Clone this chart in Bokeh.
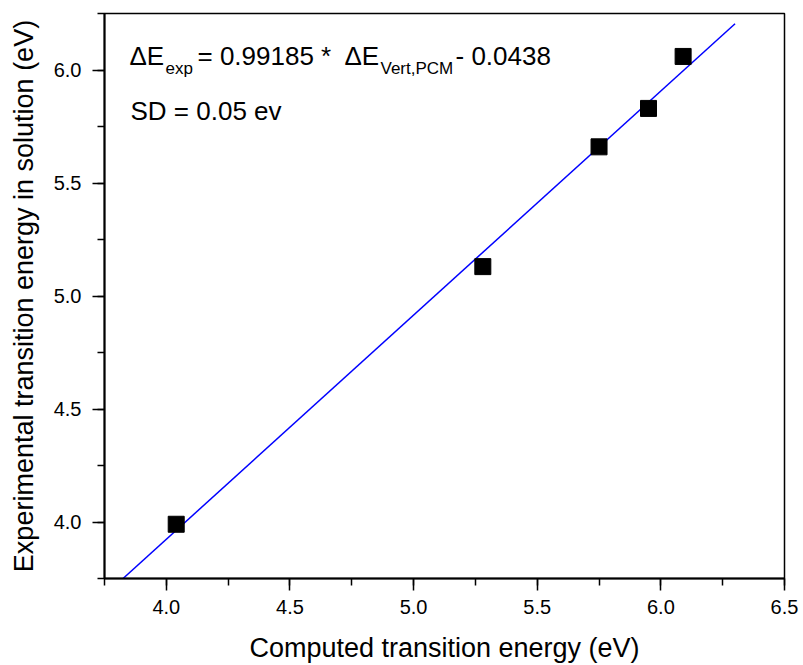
from bokeh.plotting import figure
from bokeh.models import Label, Range1d, FixedTicker, PrintfTickFormatter
from bokeh.embed import file_html
from bokeh.resources import INLINE

# Computed vs. experimental transition energies (eV)
computed = [4.04, 5.28, 5.75, 5.95, 6.09]
experimental = [3.99, 5.13, 5.66, 5.83, 6.06]

# Linear fit: dE_exp = slope * dE_vert,PCM + intercept
slope = 0.99185
intercept = -0.0438
fit_x_end = 6.3

x_ticks = [4.0, 4.5, 5.0, 5.5, 6.0, 6.5]
y_ticks = [4.0, 4.5, 5.0, 5.5, 6.0]

X_MIN, X_MAX = 3.75, 6.5
Y_MIN, Y_MAX = 3.75, 6.25

FONT = "Liberation Sans"

p = figure(
    width=803, height=665,
    output_backend="svg", toolbar_location=None,
    x_range=Range1d(X_MIN, X_MAX), y_range=Range1d(Y_MIN, Y_MAX),
    min_border_left=104, min_border_right=19,
    min_border_top=13, min_border_bottom=87,
)
p.background_fill_color = "white"
p.border_fill_color = "white"
p.grid.visible = False
p.outline_line_color = "black"
p.outline_line_width = 1.5

# fitted line, starting where it meets the bottom of the frame
fit_x = [(Y_MIN - intercept) / slope, fit_x_end]
fit_y = [slope * v + intercept for v in fit_x]
p.line(fit_x, fit_y, line_color="#0000ff", line_width=1.5)

p.scatter(computed, experimental, marker="square", size=16,
          fill_color="black", line_color="black")

for ax, ticks, minor in ((p.xaxis[0], x_ticks, [3.75 + 0.25 * i for i in range(12)]),
                         (p.yaxis[0], y_ticks, [3.75 + 0.25 * i for i in range(11)])):
    ax.ticker = FixedTicker(ticks=ticks, minor_ticks=minor)
    ax.formatter = PrintfTickFormatter(format="%.1f")
    ax.axis_line_width = 2
    ax.major_tick_line_width = 1.5
    ax.minor_tick_line_width = 1.5
    ax.major_tick_out = 12
    ax.major_tick_in = 0
    ax.minor_tick_out = 7
    ax.minor_tick_in = 0
    ax.major_label_text_font = FONT
    ax.major_label_text_font_size = "20px"
    ax.major_label_text_color = "black"
    ax.axis_label_text_font = FONT
    ax.axis_label_text_font_size = "27px"
    ax.axis_label_text_font_style = "normal"
    ax.axis_label_text_color = "black"

p.xaxis[0].axis_label = "Computed transition energy (eV)"
p.xaxis[0].major_label_standoff = 9
p.xaxis[0].axis_label_standoff = 16
p.yaxis[0].axis_label = "Experimental transition energy in solution (eV)"
p.yaxis[0].major_label_orientation = "horizontal"
p.yaxis[0].major_label_standoff = 11
p.yaxis[0].axis_label_standoff = 12


def xd(px):
    return X_MIN + (px - 104) / (680 / (X_MAX - X_MIN))


def yd(py):
    return Y_MIN + (578 - py) / (565 / (Y_MAX - Y_MIN))


pieces = [
    ("\u0394E", 129, 55, "26px"),
    ("exp", 165, 68, "17px"),
    ("= 0.99185 *", 197, 55, "26px"),
    ("\u0394E", 344, 55, "26px"),
    ("Vert,PCM", 380, 68, "17px"),
    ("- 0.0438", 455, 55, "26px"),
    ("SD = 0.05 ev", 130, 110, "26px"),
]
for txt, px, py, fs in pieces:
    p.add_layout(Label(x=xd(px), y=yd(py), text=txt, text_font=FONT,
                       text_font_size=fs, text_color="black",
                       text_align="left", text_baseline="alphabetic"))

open("out.html", "w").write(file_html(p, INLINE))
